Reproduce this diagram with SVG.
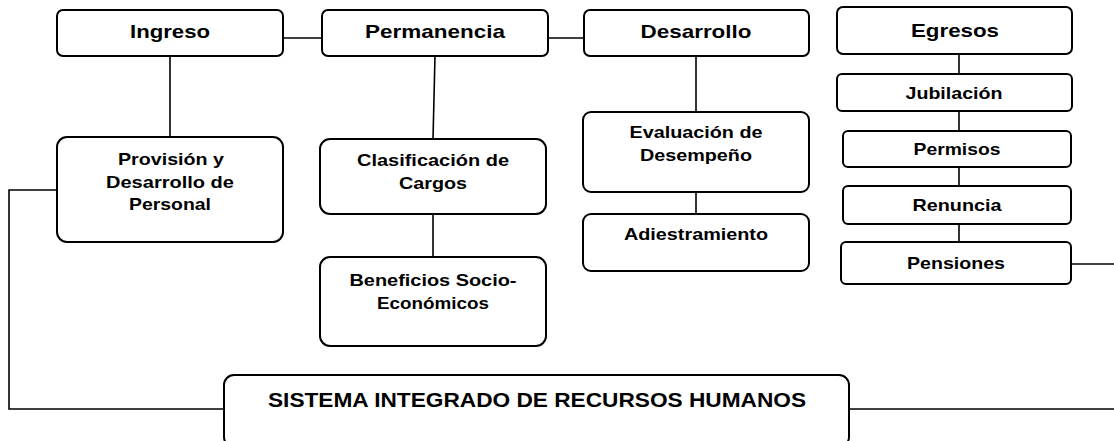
<svg xmlns="http://www.w3.org/2000/svg" width="1114" height="441" viewBox="0 0 1114 441">
<style>
.box{fill:#fff;stroke:#000;stroke-width:2}
.ln{fill:none;stroke:#000;stroke-width:1.6}
text{font-family:"Liberation Sans",Arial,sans-serif;font-weight:bold;fill:#000;text-anchor:middle}
.t1{font-size:19px}
.t2{font-size:17px}
.t3{font-size:20px}
</style>
<rect width="1114" height="441" fill="#fff"/>
<g id="connectors">
<path class="ln" d="M283,38H322"/>
<path class="ln" d="M548,38H584"/>
<path class="ln" d="M170,56V137"/>
<path class="ln" d="M435,56L433,139"/>
<path class="ln" d="M433,214V257"/>
<path class="ln" d="M696,56V112"/>
<path class="ln" d="M696,192V214"/>
<path class="ln" d="M959,54V74M959,111V131M959,167V186M959,224V242"/>
<path class="ln" d="M1071,264H1114"/>
<path class="ln" d="M57,190H9V409H224"/>
<path class="ln" d="M849,409H1114"/>
</g>
<g id="ingreso"><rect class="box" x="57" y="10" width="226" height="46" rx="6"/><text class="t1" x="170" y="38" textLength="80" lengthAdjust="spacingAndGlyphs">Ingreso</text></g>
<g id="permanencia"><rect class="box" x="322" y="10" width="226" height="46" rx="6"/><text class="t1" x="435" y="38" textLength="140" lengthAdjust="spacingAndGlyphs">Permanencia</text></g>
<g id="desarrollo"><rect class="box" x="584" y="10" width="225" height="46" rx="6"/><text class="t1" x="696" y="38" textLength="111" lengthAdjust="spacingAndGlyphs">Desarrollo</text></g>
<g id="egresos"><rect class="box" x="837" y="7" width="235" height="47" rx="6"/><text class="t1" x="955" y="37" textLength="88" lengthAdjust="spacingAndGlyphs">Egresos</text></g>
<g id="jubilacion"><rect class="box" x="837" y="74" width="235" height="37" rx="5"/><text class="t2" x="954" y="99" textLength="97" lengthAdjust="spacingAndGlyphs">Jubilación</text></g>
<g id="permisos"><rect class="box" x="843" y="131" width="228" height="36" rx="5"/><text class="t2" x="957" y="155" textLength="87" lengthAdjust="spacingAndGlyphs">Permisos</text></g>
<g id="renuncia"><rect class="box" x="843" y="186" width="228" height="38" rx="5"/><text class="t2" x="957" y="211" textLength="89" lengthAdjust="spacingAndGlyphs">Renuncia</text></g>
<g id="pensiones"><rect class="box" x="841" y="242" width="230" height="42" rx="5"/><text class="t2" x="956" y="269" textLength="98" lengthAdjust="spacingAndGlyphs">Pensiones</text></g>
<g id="evaluacion"><rect class="box" x="583" y="112" width="226" height="80" rx="8"/><text class="t2" x="696" y="138" textLength="133" lengthAdjust="spacingAndGlyphs">Evaluación de</text><text class="t2" x="696" y="161" textLength="112" lengthAdjust="spacingAndGlyphs">Desempeño</text></g>
<g id="adiestramiento"><rect class="box" x="583" y="214" width="226" height="57" rx="8"/><text class="t2" x="696" y="240" textLength="144" lengthAdjust="spacingAndGlyphs">Adiestramiento</text></g>
<g id="provision"><rect class="box" x="57" y="137" width="226" height="105" rx="10"/><text class="t2" x="171" y="165" textLength="106" lengthAdjust="spacingAndGlyphs">Provisión y</text><text class="t2" x="170" y="188" textLength="128" lengthAdjust="spacingAndGlyphs">Desarrollo de</text><text class="t2" x="170" y="210" textLength="82" lengthAdjust="spacingAndGlyphs">Personal</text></g>
<g id="clasificacion"><rect class="box" x="320" y="139" width="226" height="75" rx="10"/><text class="t2" x="433" y="166" textLength="152" lengthAdjust="spacingAndGlyphs">Clasificación de</text><text class="t2" x="433" y="189" textLength="68" lengthAdjust="spacingAndGlyphs">Cargos</text></g>
<g id="beneficios"><rect class="box" x="320" y="257" width="226" height="89" rx="10"/><text class="t2" x="433" y="286" textLength="167" lengthAdjust="spacingAndGlyphs">Beneficios Socio-</text><text class="t2" x="433" y="309" textLength="112" lengthAdjust="spacingAndGlyphs">Económicos</text></g>
<g id="sistema"><rect class="box" x="224" y="375" width="625" height="72" rx="10"/><text class="t3" x="537" y="407" textLength="538" lengthAdjust="spacingAndGlyphs">SISTEMA INTEGRADO DE RECURSOS HUMANOS</text></g>
</svg>
